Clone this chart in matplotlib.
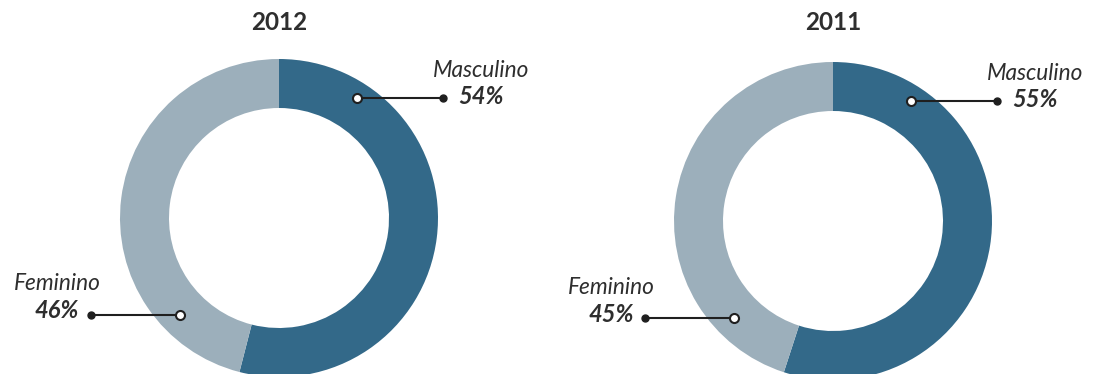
import matplotlib
matplotlib.use("Agg")
import matplotlib.pyplot as plt

# Gender split per year
years = ["2012", "2011"]
categories = ["Masculino", "Feminino"]
masculino = [54, 55]
feminino = [46, 45]

colors = ["#336989", "#9cafbb"]
text_color = "#2e2e2e"
line_color = "#1f1f1f"

W, H = 1095, 374
fig = plt.figure(figsize=(W / 100, H / 100), dpi=100)
ax = fig.add_axes([0, 0, 1, 1])

# donut centres in pixel-like coordinates (y measured from the bottom)
centers = [(279, H - 218), (833, H - 221)]
outer_r = 159
ring_w = 49

plt.rcParams["font.family"] = ["Lato", "DejaVu Sans"]

for i, year in enumerate(years):
    cx, cy = centers[i]
    vals = [masculino[i], feminino[i]]
    ax.pie(vals, colors=colors, center=(cx, cy), radius=outer_r,
           startangle=90, counterclock=False,
           wedgeprops=dict(width=ring_w, linewidth=0), frame=True)

    ax.text(cx, H - 22, year, ha="center", va="center", fontsize=17.5,
            fontweight="bold", color=text_color, family="Lato")

    # Masculino callout (upper right)
    y_m = cy + 120
    x0, x1 = cx + 78, cx + 164
    ax.plot([x0, x1], [y_m, y_m], color=line_color, lw=1.5, zorder=3)
    ax.plot([x1], [y_m], "o", ms=5, color=line_color, zorder=4)
    ax.plot([x0], [y_m], "o", ms=6.5, mfc="white", mec=line_color, mew=1.5, zorder=4)
    tx = x1 + 38
    ax.text(tx, y_m + 28, categories[0], ha="center", va="center", fontsize=16.3,
            style="italic", color=text_color, family="Lato")
    ax.text(tx, y_m + 2, f"{masculino[i]}%", ha="center", va="center", fontsize=17,
            style="italic", fontweight="bold", color=text_color, family="Lato")

    # Feminino callout (lower left)
    y_f = cy - 97
    x0, x1 = cx - 99, cx - 188
    ax.plot([x1, x0], [y_f, y_f], color=line_color, lw=1.5, zorder=3)
    ax.plot([x1], [y_f], "o", ms=5, color=line_color, zorder=4)
    ax.plot([x0], [y_f], "o", ms=6.5, mfc="white", mec=line_color, mew=1.5, zorder=4)
    tx = x1 - 34
    ax.text(tx, y_f + 31, categories[1], ha="center", va="center", fontsize=16.3,
            style="italic", color=text_color, family="Lato")
    ax.text(tx, y_f + 4, f"{feminino[i]}%", ha="center", va="center", fontsize=17,
            style="italic", fontweight="bold", color=text_color, family="Lato")

ax.set_xlim(0, W)
ax.set_ylim(0, H)
ax.set_aspect("auto")
ax.axis("off")

fig.savefig("out.png", dpi=100, facecolor="white")
